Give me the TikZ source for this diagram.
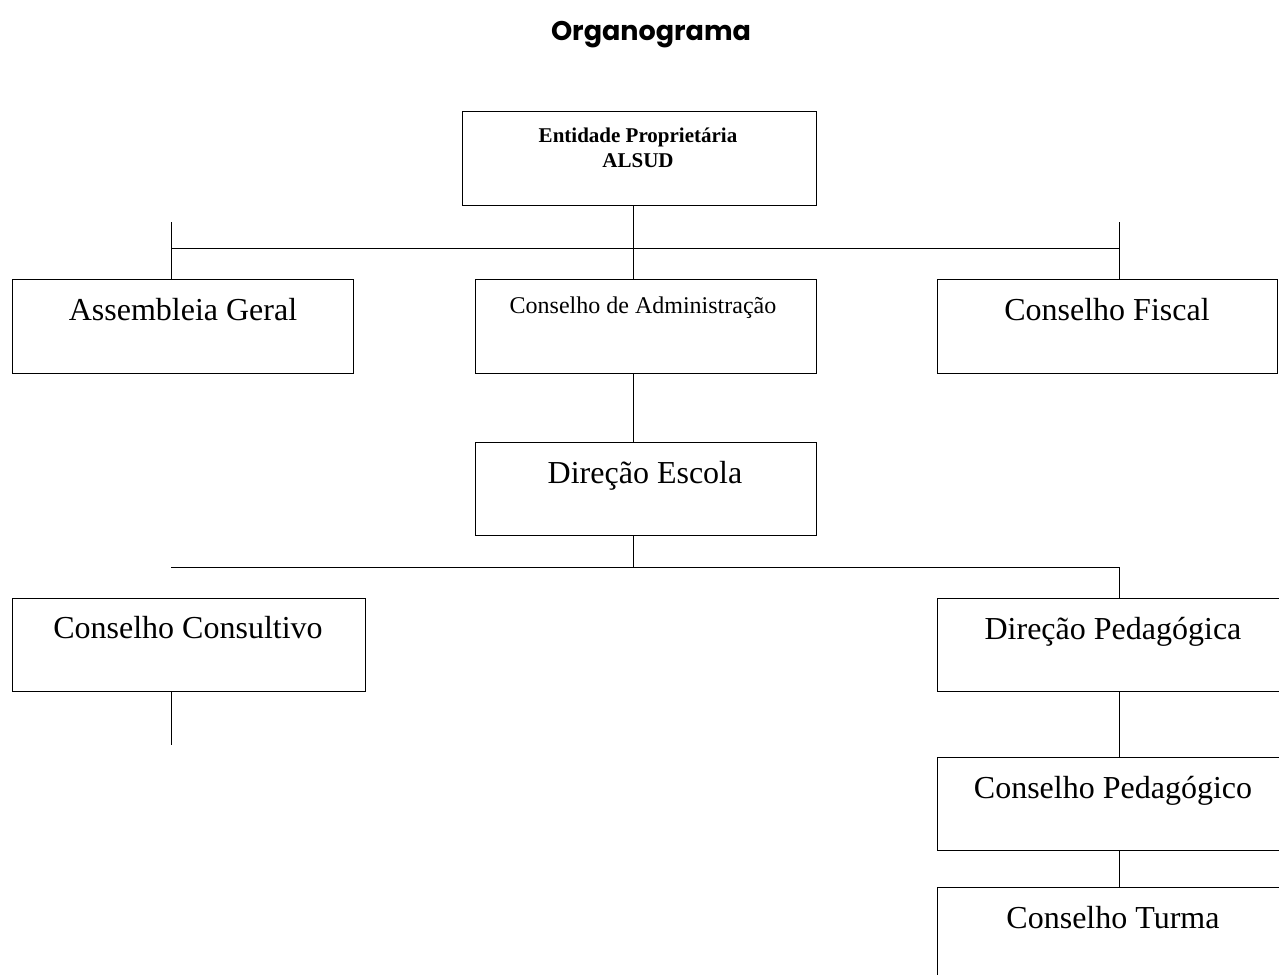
\documentclass[tikz,border=0pt]{standalone}
\usepackage{fontspec}
\setmainfont{Liberation Serif}
\newfontfamily\titulofont{Poppins}
\begin{document}
\begin{tikzpicture}[x=0.5pt,y=-0.5pt]
\tikzset{ line width=1pt, inner sep=0pt, outer sep=0pt,
  caixa/.style={draw, rectangle, minimum height=47pt},
  grande/.style={anchor=base, font=\fontsize{16}{19}\selectfont},
}

\useasboundingbox (0,0) rectangle (1279,974);

%\draw [lightgray, dashed](0,0) grid [step=50] (1279,974);

\node [anchor=base, font=\titulofont\bfseries\fontsize{13.5}{16}\selectfont] (tit) at (651,41) {Organograma};

% caixas
\node [caixa, minimum width=177pt] (ent) at (639,158) {};
\node [caixa, minimum width=170.5pt] (ag) at (182.5,326) {};
\node [caixa, minimum width=170.5pt] (ca) at (645.5,326) {};
\node [caixa, minimum width=170pt] (cf) at (1107,326) {};
\node [caixa, minimum width=170.5pt, minimum height=46.5pt] (de) at (645.5,488.5) {};
\node [caixa, minimum width=176.5pt, minimum height=46.5pt] (cc) at (188.5,644.5) {};
\node [caixa, minimum width=176pt, minimum height=46.5pt] (dp) at (1113,644.5) {};
\node [caixa, minimum width=176pt, minimum height=46.5pt] (cp) at (1113,803.5) {};
\node [caixa, minimum width=176pt, minimum height=56pt] (ct) at (1113,943) {};

% textos
\node [anchor=base, align=center, font=\bfseries\fontsize{10.5}{12.5}\selectfont] (tent) at (638,167) {Entidade Propriet\'aria\\ALSUD};
\node [grande] (tag) at (183,320) {Assembleia Geral};
\node [anchor=base, font=\fontsize{12}{14}\selectfont] (tca) at (643,313) {Conselho de Administra\c{c}\~ao};
\node [grande] (tcf) at (1107,320) {Conselho Fiscal};
\node [grande] (tde) at (645,483) {Dire\c{c}\~ao Escola};
\node [grande] (tcc) at (188,638) {Conselho Consultivo};
\node [grande] (tdp) at (1113,639) {Dire\c{c}\~ao Pedag\'ogica};
\node [grande] (tcp) at (1113,798) {Conselho Pedag\'ogico};
\node [grande] (tct) at (1113,928) {Conselho Turma};

% ligacoes
\coordinate (j1) at (633,248);
\coordinate (j2) at (633,567);
\coordinate (e1) at (171,222);
\coordinate (e2) at (1119,222);
\coordinate (fim) at (171,745);

\draw (ent.south -| j1) -- (ca.north -| j1);
\draw (e1 |- j1) -- (e2 |- j1);
\draw (e1) -- (ag.north -| e1);
\draw (e2) -- (cf.north -| e2);
\draw (ca.south -| j1) -- (de.north -| j1);
\draw (de.south -| j1) -- (j2);
\draw (j2 -| e1) -- (j2 -| e2) -- (dp.north -| e2);
\draw (cc.south -| e1) -- (fim);
\draw (dp.south -| e2) -- (cp.north -| e2);
\draw (cp.south -| e2) -- (ct.north -| e2);

\end{tikzpicture}
\end{document}
